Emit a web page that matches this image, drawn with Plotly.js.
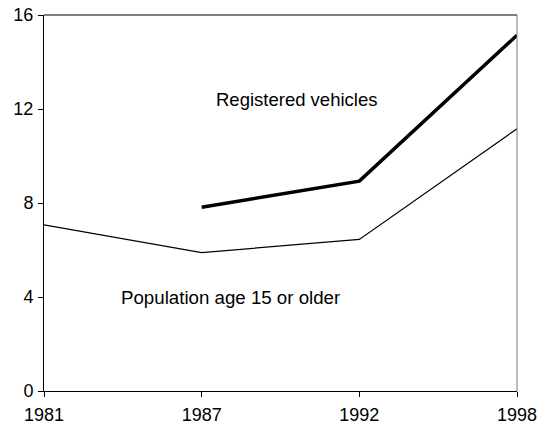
<!DOCTYPE html>
<html>
<head>
<meta charset="utf-8">
<script src="https://cdn.plot.ly/plotly-3.0.1.min.js"></script>
<style>html,body{margin:0;padding:0;background:#fff;}#chart{width:556px;height:426px;}</style>
</head>
<body>
<div id="chart"></div>
<script>
const years = ["1981", "1987", "1992", "1998"];
const population = [7.07, 5.89, 6.45, 11.16];
const vehicles = [null, 7.82, 8.93, 15.14];
const yTicks = [0, 4, 8, 12, 16];
const labelVehicles = "Registered vehicles";
const labelPopulation = "Population age 15 or older";

const font = "Liberation Sans, Arial, Helvetica, sans-serif";

const traces = [
  {x: years, y: population, type: "scatter", mode: "lines",
   line: {color: "#000", width: 1.2}, hoverinfo: "skip"},
  {x: years, y: vehicles, type: "scatter", mode: "lines",
   line: {color: "#000", width: 3.5}, connectgaps: false, hoverinfo: "skip"}
];

const layout = {
  width: 556, height: 426,
  margin: {l: 44, r: 38.5, t: 14.5, b: 34.5, pad: 0},
  paper_bgcolor: "#fff", plot_bgcolor: "#fff",
  showlegend: false,
  font: {family: font, size: 18, color: "#000"},
  xaxis: {
    type: "category", range: [0, 3],
    showgrid: false, zeroline: false,
    showline: true, linecolor: "#000", linewidth: 1, mirror: false,
    ticks: "outside", ticklen: 5, tickcolor: "#000", tickwidth: 1,
    ticklabelstandoff: 2,
    tickfont: {family: font, size: 18, color: "#000"}
  },
  yaxis: {
    range: [0, 16], tickvals: yTicks, ticktext: yTicks.map(String),
    showgrid: false, zeroline: false,
    showline: true, linecolor: "#000", linewidth: 1,
    ticks: "outside", ticklen: 5, tickcolor: "#000", tickwidth: 1,
    ticklabelstandoff: 1,
    tickfont: {family: font, size: 18, color: "#000"}
  },
  shapes: [
    {type: "line", xref: "paper", yref: "paper", x0: 0, x1: 1, y0: 1, y1: 1,
     line: {color: "#000", width: 1}},
    {type: "line", xref: "paper", yref: "paper", x0: 1, x1: 1, y0: 0, y1: 1,
     line: {color: "#777", width: 1}}
  ],
  annotations: [
    {x: 1.6, y: 12.4, xref: "x", yref: "y", text: labelVehicles, showarrow: false,
     font: {family: font, size: 18.5, color: "#000"}},
    {x: 1.185, y: 4.0, xref: "x", yref: "y", text: labelPopulation, showarrow: false,
     font: {family: font, size: 18.7, color: "#000"}}
  ]
};

Plotly.newPlot("chart", traces, layout, {staticPlot: true, displayModeBar: false});
</script>
</body>
</html>
